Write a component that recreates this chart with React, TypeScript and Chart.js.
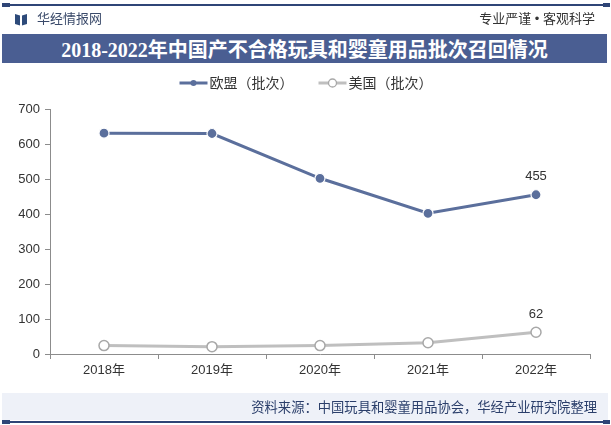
import React, { useEffect, useRef } from "react";
import { Chart, registerables } from "chart.js";

Chart.register(...registerables);

const categories = ["2018年", "2019年", "2020年", "2021年", "2022年"];
const euValues = [631, 630, 502, 402, 455];
const usValues = [24, 21, 24, 32, 62];
const seriesLabels = ["欧盟（批次）", "美国（批次）"];
const yMin = 0;
const yMax = 700;
const yStep = 100;

const titleText = "2018-2022年中国产不合格玩具和婴童用品批次召回情况";
const sourceText = "资料来源：中国玩具和婴童用品协会，华经产业研究院整理";

const EU_COLOR = "#5b6f9c";
const US_COLOR = "#bfbfbf";
const NAVY = "#2f4577";
const FONT = "'Liberation Sans', Arial, 'Noto Sans CJK SC', sans-serif";

const legendPlugin = {
  id: "customLegend",
  afterDraw(chart: any) {
    const ctx = chart.ctx;
    ctx.save();
    ctx.font = `14px ${FONT}`;
    const lineW = 28;
    const gapText = 2;
    const gapItem = 25;
    const items = chart.data.datasets.map((ds: any) => ({
      ds,
      w: lineW + gapText + ctx.measureText(ds.label).width,
    }));
    const total = items.reduce((s: number, it: any) => s + it.w, 0) + gapItem * (items.length - 1);
    let x = 306 - total / 2;
    const y = 83;
    items.forEach((it: any) => {
      const ds = it.ds;
      ctx.strokeStyle = ds.borderColor;
      ctx.lineWidth = 3;
      ctx.beginPath();
      ctx.moveTo(x, y);
      ctx.lineTo(x + lineW, y);
      ctx.stroke();
      ctx.beginPath();
      ctx.arc(x + lineW / 2, y, ds.legendDot, 0, Math.PI * 2);
      ctx.fillStyle = ds.pointBackgroundColor;
      ctx.fill();
      if (ds.legendStroke) {
        ctx.lineWidth = 1.3;
        ctx.strokeStyle = ds.pointBorderColor;
        ctx.stroke();
      }
      ctx.fillStyle = "#333";
      ctx.textBaseline = "middle";
      ctx.textAlign = "left";
      ctx.fillText(ds.label, x + lineW + gapText, y + 1);
      x += it.w + gapItem;
    });
    ctx.restore();
  },
};

const lastLabelPlugin = {
  id: "lastLabel",
  afterDatasetsDraw(chart: any) {
    const ctx = chart.ctx;
    ctx.save();
    ctx.font = `13px ${FONT}`;
    ctx.fillStyle = "#333";
    ctx.textAlign = "center";
    ctx.textBaseline = "middle";
    chart.data.datasets.forEach((ds: any, i: number) => {
      const meta = chart.getDatasetMeta(i);
      const idx = ds.data.length - 1;
      const el = meta.data[idx];
      if (!el) return;
      ctx.fillText(String(ds.data[idx]), el.x, el.y - 18);
    });
    ctx.restore();
  },
};

function LogoIcon() {
  return (
    <svg width="12" height="13" viewBox="0 0 12 13" style={{ position: "absolute", left: 15, top: 13 }}>
      <polygon points="0,1 5,2.5 5,12.5 0,11" fill="#2d4a7a" />
      <polygon points="12,1 7,2.5 7,12.5 12,11" fill="#2d4a7a" />
    </svg>
  );
}

export default function App() {
  const ref = useRef<HTMLCanvasElement | null>(null);

  useEffect(() => {
    document.body.style.margin = "0";
    if (!ref.current) return;
    const chart = new Chart(ref.current, {
      type: "line",
      data: {
        labels: categories,
        datasets: [
          {
            label: seriesLabels[0],
            data: euValues,
            borderColor: EU_COLOR,
            backgroundColor: EU_COLOR,
            borderWidth: 3,
            pointRadius: 5,
            pointBackgroundColor: EU_COLOR,
            pointBorderColor: "#ffffff",
            pointBorderWidth: 1.2,
            tension: 0,
            legendDot: 3,
            legendStroke: false,
          } as any,
          {
            label: seriesLabels[1],
            data: usValues,
            borderColor: US_COLOR,
            backgroundColor: US_COLOR,
            borderWidth: 3,
            pointRadius: 5,
            pointBackgroundColor: "#ffffff",
            pointBorderColor: "#a8a8a8",
            pointBorderWidth: 1.5,
            tension: 0,
            legendDot: 4,
            legendStroke: true,
          } as any,
        ],
      },
      options: {
        animation: false,
        responsive: false,
        maintainAspectRatio: false,
        layout: { padding: { left: 0, right: 21, top: 109, bottom: 43 } },
        plugins: {
          legend: { display: false },
          tooltip: { enabled: false },
          title: { display: false },
        },
        scales: {
          x: {
            offset: true,
            grid: {
              display: true,
              drawOnChartArea: false,
              drawTicks: true,
              tickLength: 5,
              color: "#8c8c8c",
              offset: true,
            },
            border: { display: true, color: "#8c8c8c", width: 1 },
            ticks: {
              color: "#333",
              font: { size: 13, family: FONT },
              padding: 4,
              maxRotation: 0,
            },
            afterFit(scale: any) {
              scale.height = 28;
            },
          },
          y: {
            min: yMin,
            max: yMax,
            grid: {
              display: true,
              drawOnChartArea: false,
              drawTicks: true,
              tickLength: 5,
              color: "#8c8c8c",
            },
            border: { display: true, color: "#8c8c8c", width: 1 },
            ticks: {
              stepSize: yStep,
              color: "#333",
              font: { size: 13, family: FONT },
              padding: 5,
            },
            afterFit(scale: any) {
              scale.width = 50;
            },
          },
        },
      },
      plugins: [legendPlugin, lastLabelPlugin],
    });
    return () => chart.destroy();
  }, []);

  return (
    <div style={{ position: "fixed", left: 0, top: 0, width: 611, height: 425, background: "#fff", overflow: "hidden" }}>
      <canvas ref={ref} width={611} height={425} style={{ position: "absolute", left: 0, top: 0, width: 611, height: 425 }} />
      {/* top rule */}
      <div style={{ position: "absolute", left: 2, top: 3, width: 8, height: 4, background: NAVY }} />
      <div style={{ position: "absolute", left: 10, top: 4, width: 593, height: 2, background: NAVY }} />
      <div style={{ position: "absolute", left: 603, top: 3, width: 7, height: 4, background: NAVY }} />
      <LogoIcon />
      <div style={{ position: "absolute", left: 37, top: 10, fontSize: 13, lineHeight: "18px", color: "#3a4a6a", fontFamily: FONT }}>华经情报网</div>
      <div style={{ position: "absolute", right: 16, top: 10, fontSize: 13, lineHeight: "18px", color: "#333", fontFamily: FONT, whiteSpace: "nowrap" }}>专业严谨 • 客观科学</div>
      {/* title banner */}
      <div style={{ position: "absolute", left: 2, top: 34, width: 605, height: 29, background: "#4a5e92", display: "flex", alignItems: "center", justifyContent: "center" }}>
        <span style={{ color: "#fff", fontSize: 20, fontWeight: "bold", fontFamily: "'Liberation Serif', 'Noto Sans CJK SC', serif", whiteSpace: "nowrap", letterSpacing: 0 }}>{titleText}</span>
      </div>
      {/* footer */}
      <div style={{ position: "absolute", left: 2, top: 393, width: 606, height: 27, background: "#eef1f8" }} />
      <div style={{ position: "absolute", right: 14, top: 399, fontSize: 13.3, lineHeight: "18px", color: "#2b3f6b", fontFamily: FONT, whiteSpace: "nowrap" }}>{sourceText}</div>
      <div style={{ position: "absolute", left: 2, top: 420, width: 8, height: 4, background: NAVY }} />
      <div style={{ position: "absolute", left: 10, top: 421, width: 593, height: 2, background: NAVY }} />
      <div style={{ position: "absolute", left: 603, top: 420, width: 7, height: 4, background: NAVY }} />
    </div>
  );
}
